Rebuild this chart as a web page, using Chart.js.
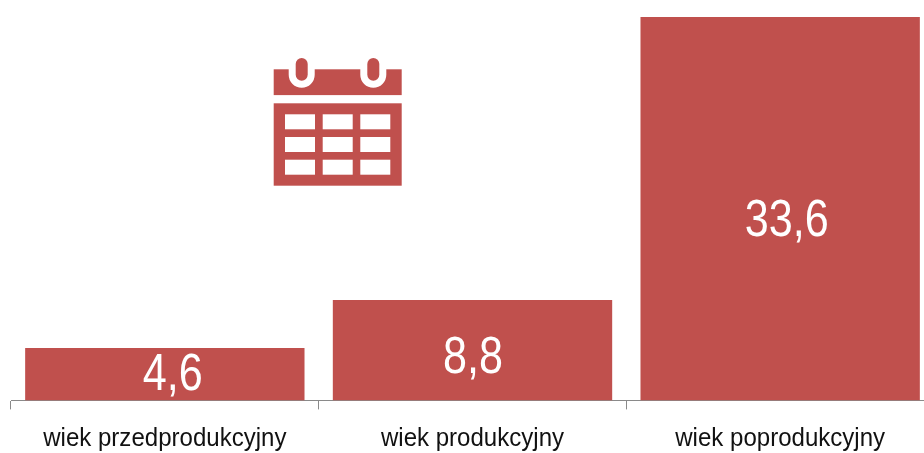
<!DOCTYPE html>
<html>
<head>
<meta charset="utf-8">
<style>
html,body{margin:0;padding:0;background:#fff;overflow:hidden;width:924px;height:453px}
#wrap{position:absolute;left:0;top:0;width:950px;height:453px}
#icon{position:absolute;left:0;top:0;pointer-events:none}
</style>
<script src="https://cdn.jsdelivr.net/npm/chart.js@4"></script>
</head>
<body>
<div id="wrap"><canvas id="c" width="950" height="453"></canvas></div>
<svg id="icon" width="924" height="453" aria-hidden="true">
  <g fill="#C0504D">
    <rect x="273.7" y="69.3" width="128" height="25.8"/>
    <rect x="273.7" y="103.3" width="128" height="82.4"/>
  </g>
  <g fill="#fff">
    <path d="M288.7 69h26v5.7a13 13 0 0 1-26 0z"/>
    <path d="M360.3 69h26v5.7a13 13 0 0 1-26 0z"/>
    <rect x="285" y="114.3" width="30" height="15"/><rect x="322.7" y="114.3" width="30" height="15"/><rect x="360.3" y="114.3" width="30" height="15"/>
    <rect x="285" y="137" width="30" height="15"/><rect x="322.7" y="137" width="30" height="15"/><rect x="360.3" y="137" width="30" height="15"/>
    <rect x="285" y="159.7" width="30" height="15"/><rect x="322.7" y="159.7" width="30" height="15"/><rect x="360.3" y="159.7" width="30" height="15"/>
  </g>
  <g fill="#C0504D">
    <rect x="295.7" y="58" width="12" height="22.7" rx="6"/>
    <rect x="367.3" y="58" width="12" height="22.7" rx="6"/>
  </g>
</svg>
<script>
const categories = ["wiek przedprodukcyjny", "wiek produkcyjny", "wiek poprodukcyjny"];
const values = [4.6, 8.8, 33.6];
const barColor = "#C0504D";
const fontFamily = '"Liberation Sans",Arial,sans-serif';
const labelShiftX = [8, 0.5, 6.5];
const labelShiftY = [-3, 4, 8];

function squeezed(ctx, text, x, y, sx) {
  ctx.save();
  ctx.translate(x, y);
  ctx.scale(sx, 1);
  ctx.fillText(text, 0, 0);
  ctx.restore();
}

const textLayer = {
  id: "textLayer",
  afterDatasetsDraw(chart) {
    const ctx = chart.ctx;
    const meta = chart.getDatasetMeta(0);
    const xs = chart.scales.x;
    ctx.save();
    ctx.textAlign = "center";
    ctx.textBaseline = "alphabetic";
    ctx.fillStyle = "#fff";
    ctx.font = "52px " + fontFamily;
    meta.data.forEach((bar, i) => {
      const y = (bar.y + bar.base) / 2 + 19;
      squeezed(ctx, String(values[i]).replace(".", ","), bar.x + labelShiftX[i], y + labelShiftY[i], 0.83);
    });
    ctx.fillStyle = "#111";
    ctx.font = "26px " + fontFamily;
    categories.forEach((name, i) => {
      squeezed(ctx, name, xs.getPixelForTick(i), 446, 0.925);
    });
    ctx.restore();
  }
};

new Chart(document.getElementById("c"), {
  type: "bar",
  data: {
    labels: categories,
    datasets: [{ data: values, backgroundColor: barColor, borderWidth: 0,
                 categoryPercentage: 1, barPercentage: 0.908 }]
  },
  options: {
    responsive: false,
    animation: false,
    layout: { padding: { left: 11, right: 16, top: 17, bottom: 0 } },
    plugins: { legend: { display: false }, tooltip: { enabled: false } },
    scales: {
      y: { display: false, min: 0, max: 33.6 },
      x: {
        afterFit(s) { s.height = 52.6; },
        border: { color: "#8a8a8a", width: 1 },
        grid: { offset: true, drawOnChartArea: false, drawTicks: true, tickLength: 9, color: "#8a8a8a" },
        ticks: { display: false }
      }
    }
  },
  plugins: [textLayer]
});
</script>
</body>
</html>
